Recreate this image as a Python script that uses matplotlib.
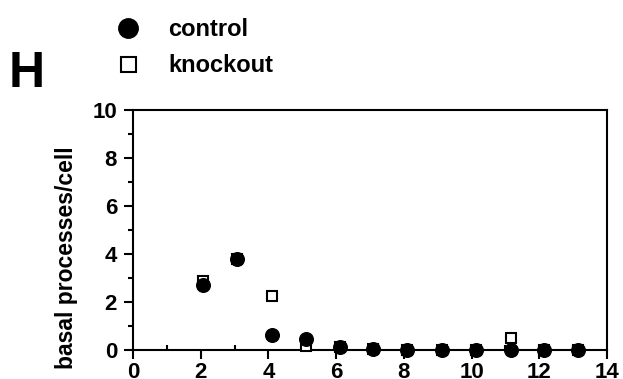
import matplotlib
matplotlib.use('Agg')
import matplotlib.pyplot as plt
from matplotlib.ticker import MultipleLocator

plt.rcParams['font.family'] = ['Liberation Sans', 'DejaVu Sans']
plt.rcParams['font.weight'] = 'bold'

# data
days = [2.08, 3.08, 4.1, 5.1, 6.1, 7.08, 8.1, 9.12, 10.13, 11.15, 12.15, 13.15]
control = [2.72, 3.78, 0.62, 0.47, 0.14, 0.03, 0.02, 0.02, 0.02, 0.0, 0.02, 0.02]
knockout = [2.88, 3.78, 2.25, 0.16, 0.13, 0.03, 0.02, 0.02, 0.02, 0.52, 0.02, 0.02]

fig = plt.figure(figsize=(6.23, 3.79), dpi=100)
ax = fig.add_axes([133/623, 1 - 350/379, 474/623, 240/379])

ko, = ax.plot(days, knockout, 's', ms=6.5, mfc='white', mec='black', mew=1.5,
              clip_on=False, zorder=3, label='knockout')
ct, = ax.plot(days, control, 'o', ms=9.8, color='black', clip_on=False,
              zorder=4, label='control')

ax.set_xlim(0, 14)
ax.set_ylim(0, 10)
ax.xaxis.set_major_locator(MultipleLocator(2))
ax.xaxis.set_minor_locator(MultipleLocator(1))
ax.yaxis.set_major_locator(MultipleLocator(2))
ax.yaxis.set_minor_locator(MultipleLocator(1))
ax.tick_params(which='major', length=6.5, width=1.5, labelsize=16)
ax.tick_params(axis='y', which='major', pad=5)
ax.tick_params(axis='x', which='major', pad=2.5)
ax.tick_params(axis='x', which='minor', direction='in', length=3.5, width=1.5)
ax.tick_params(axis='y', which='minor', direction='out', length=3.5, width=1.5)
for s in ax.spines.values():
    s.set_linewidth(1.5)

ax.set_ylabel('basal processes/cell', fontsize=16.5, fontweight='bold')
ax.yaxis.set_label_coords(-0.116, 0.385)

leg = fig.legend([ct, ko], ['control', 'knockout'], loc='upper left',
                 bbox_to_anchor=(116/623, 1 - 18.5/379), frameon=False,
                 fontsize=17, handlelength=1.0, handletextpad=1.22,
                 labelspacing=0.54, borderpad=0, borderaxespad=0)
leg.legend_handles[0].set_markersize(14)
leg.legend_handles[1].set_markersize(10.8)

fig.text(9/623, 1 - 87/379, 'H', fontsize=36, fontweight='bold',
         va='baseline', ha='left')

fig.savefig('out.png', dpi=100)
